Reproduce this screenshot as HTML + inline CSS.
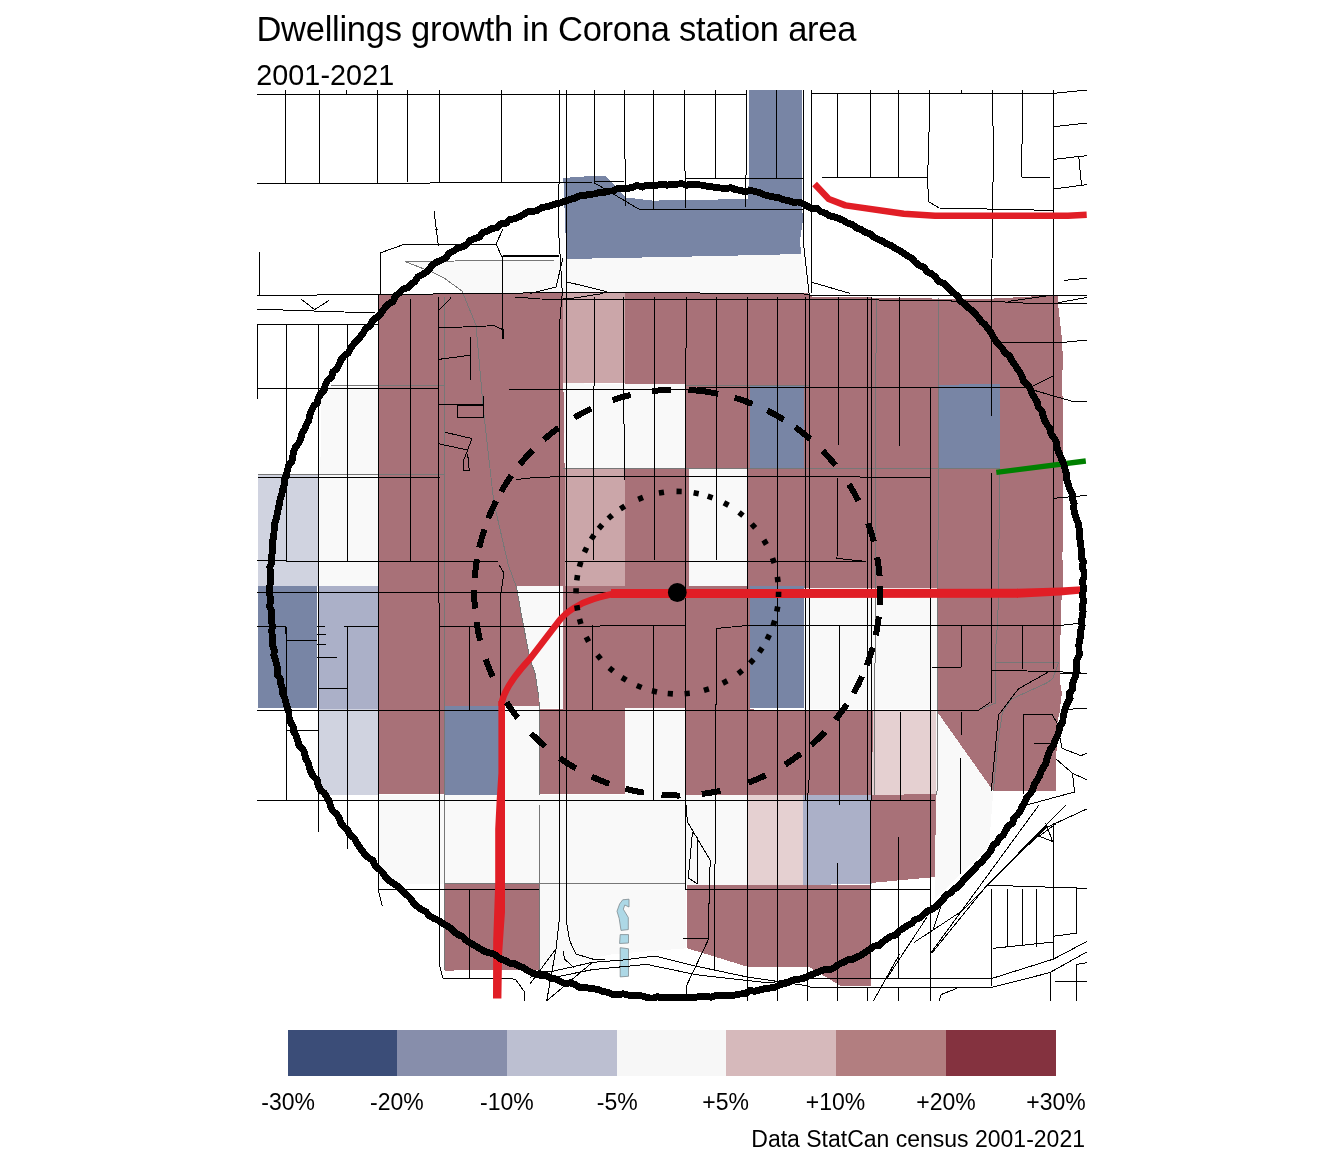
<!DOCTYPE html>
<html lang="en"><head><meta charset="utf-8"><title>Dwellings growth in Corona station area</title>
<style>html,body{margin:0;padding:0;background:#fff}body{width:1344px;height:1152px;position:relative;overflow:hidden}</style></head>
<body>
<svg width="1344" height="1152" viewBox="0 0 1344 1152" style="position:absolute;left:0;top:0">
<defs><clipPath id="cp"><rect x="257" y="90" width="830" height="911"/></clipPath></defs>
<g clip-path="url(#cp)">
<g shape-rendering="crispEdges">
<polygon points="563.3,178 584,176.5 606,176 625.8,197.5 653,200.6 747.7,199 749,178 749,90 801.5,90 801.5,200 803,220 800,240 801,254 717.5,256 566.5,259 565,220" fill="#7885a5"/>
<polygon points="405,261.5 556,260 566.5,259 717.5,256 801,254 809,294 466,295 462,291 444,278 433,272.5" fill="#f9f9f9"/>
<polygon points="378,294.6 563.3,292.6 565.4,586 378,586" fill="#a87178"/>
<polygon points="624.8,293 808,293.3 812,296.5 980,299.3 1040,296 1057.6,295.6 1058.1,304 1062.3,342.5 1062.8,363 1061.8,386 624.8,386" fill="#a87178"/>
<polygon points="563.3,292.6 624.8,293 624.8,383.5 563.3,383.3" fill="#cba6a9"/>
<polygon points="563.3,383.3 686.25,384.5 686.25,468.75 565.4,469.4" fill="#f9f9f9"/>
<polygon points="686.25,384.5 749.8,385.4 749.8,468.75 686.25,468.75" fill="#a87178"/>
<polygon points="749.8,385.4 804,385.4 804,468.75 749.8,468.75" fill="#7885a5"/>
<polygon points="804,385.4 1061.8,385.4 1062.8,400 1062.5,560 1062.5,587.5 804,587.5" fill="#a87178"/>
<polygon points="939.2,385 999.6,383.5 999.6,467.5 939.2,468.5" fill="#7885a5"/>
<polygon points="565.4,469.4 624.8,468.75 624.8,585.8 565.4,585.8" fill="#cba6a9"/>
<polygon points="624.8,468.75 688.75,468.75 688.75,585.8 624.8,585.8" fill="#a87178"/>
<polygon points="688.75,468.75 747.7,468.75 747.7,585.8 688.75,585.8" fill="#f9f9f9"/>
<polygon points="747.7,468.75 804,468.75 804,587.5 747.7,585.8" fill="#a87178"/>
<polygon points="320.8,386.5 378,386.5 378,585.8 320,585.8" fill="#f9f9f9"/>
<polygon points="257.7,474.4 317.7,474.4 317.7,585.8 257.7,585.8" fill="#d0d3e0"/>
<polygon points="257.7,585.8 317,585.8 317,707.7 257.7,707.7" fill="#7885a5"/>
<polygon points="318.75,585.8 377.5,585.8 377.5,708.75 318.75,708.75" fill="#abb0c8"/>
<polygon points="318.75,708.75 377.5,708.75 377.5,795 318.75,795" fill="#d0d3e0"/>
<polygon points="378,585.8 444,585.8 444,794 378,794" fill="#a87178"/>
<polygon points="444,585.8 516,585.8 521,613 530,659 535,673 539,698 539.5,706 444,706" fill="#a87178"/>
<polygon points="444.8,705.6 500,705.6 500,795 444.8,795" fill="#7885a5"/>
<polygon points="516,585.8 563.3,585.8 563.3,708 539.5,708 539.5,795 500,795 500,705.6 539.5,706 539,698 535,673 530,659 521,613" fill="#f9f9f9"/>
<polygon points="563.3,585.8 749.8,585.8 749.8,708.75 563.3,708.75" fill="#a87178"/>
<polygon points="749.8,585.8 804,585.8 804,707.7 749.8,707.7" fill="#7885a5"/>
<polygon points="804,587.5 936.5,587.5 936.5,708.75 804,708.75" fill="#f9f9f9"/>
<polygon points="936.5,587.5 1062.5,587.5 1061.5,600 1061.25,620 1059.7,651 1059.7,680 1061.8,693 1059.7,711.7 1057,724 1055.8,791 993.3,791 936.5,710.8" fill="#a87178"/>
<polygon points="936.5,710.8 993.3,791 989,846.7 935,898.75 935,794" fill="#f9f9f9"/>
<polygon points="539.5,708.75 624.8,708.75 624.8,794.2 539.5,794.2" fill="#a87178"/>
<polygon points="624.8,707.7 685.2,707.7 685.2,795.2 624.8,795.2" fill="#f9f9f9"/>
<polygon points="685.2,708.75 872.5,710.8 872.5,795.2 685.2,795.2" fill="#a87178"/>
<polygon points="873.5,710.8 936,710.8 936,794 871.5,795" fill="#e5d0d1"/>
<polygon points="378,795 747.7,795 747.7,885.2 686.25,885.2 686.25,948.3 613.3,954 539.4,969.6 539.4,883.75 378,883.75" fill="#f9f9f9"/>
<polygon points="747.7,795.2 803,795.2 803,885.2 747.7,885.2" fill="#e5d0d1"/>
<polygon points="803,795.2 871.5,795 871.5,883.5 803,885.2" fill="#abb0c8"/>
<polygon points="871.5,795 936,794 935,877 870.4,883" fill="#a87178"/>
<polygon points="444.8,884 539.4,883.75 539.4,969.6 444.8,970.6" fill="#a87178"/>
<polygon points="687.3,885.2 870.4,885.2 871.5,986 841,986 810,967.5 746.7,966.5 687.3,948.3" fill="#a87178"/>
</g>
<g fill="#add8e6" stroke="#7f8a8f" stroke-width="0.8">
<polygon points="622.7,899.8 629,899.2 629,907 624.8,905 623.3,909.2 628.3,917.5 628.3,929.6 621,930.4 619.2,918.5 617,911.25 619.6,904"/>
<polygon points="620.2,934.6 628.5,934.6 628.5,943 619.6,943.5"/>
<polygon points="620.2,947.7 628.5,948.75 628.5,976.25 620.2,976.9"/>
</g>
<g fill="none" stroke="#777" stroke-width="1" shape-rendering="crispEdges">
<polyline points="405,261.5 556,260"/>
<polyline points="405,261.5 433,272.5 444,278 462,291 476,325 483.3,408.3 493.75,502 508.3,565 516.7,588 521,613 530,659 535,673 539,698 539.5,795"/>
<polyline points="445,297 444.5,970"/>
<polyline points="876.2,298 874.6,795"/>
<polyline points="939,298 937,795"/>
<polyline points="999.6,468 998.6,590 997.7,620 995.6,650 995.6,703 980,709.6"/>
<polyline points="331,385.4 445,385.4"/>
<polyline points="686,385.5 810,385.5"/>
<polyline points="257.7,474.4 445,474.4"/>
<polyline points="563,468.75 1000,468.5"/>
<polyline points="995.6,662.5 1058.6,662.5 1052.9,678.3 1047.7,682.5 1011.25,699.2 1002.4,712.7 998.2,740 993.3,791"/>
<polyline points="444,883.75 686,883.75"/>
<polyline points="539.4,805 539.4,969.6"/>
</g>
<g fill="none" stroke="#000" stroke-width="1" shape-rendering="crispEdges">
<polyline points="257,94 746,94"/>
<polyline points="811,93.3 1053.75,93.3 1086.7,90"/>
<polyline points="257,183 430,183 594.6,182 624,181.5"/>
<polyline points="594.6,183 639.4,209.4 803,209.4"/>
<polyline points="685.8,178.75 803,178.75"/>
<polyline points="822,177.3 927.3,177.3"/>
<polyline points="1021.5,177.3 1049.6,177.3"/>
<polyline points="257,295.4 380,294.6 560,292.6 800,293.3 812,295.4 1086.7,295.4"/>
<polyline points="515,297 540,299 625,299.7 849,299.6"/>
<polyline points="849,299.6 980,301.4 1005,302 1037.3,303.75 1087,303"/>
<polyline points="1008,301.4 1048.75,295.6"/>
<polyline points="257,324.7 378.5,324.7"/>
<polyline points="257,309.6 271,309.6 375,313"/>
<polyline points="301,299 314.6,309.6 328.75,300.6"/>
<polyline points="285,90 285,183"/>
<polyline points="319,90 319,135 320,183"/>
<polyline points="346,90 346,94"/>
<polyline points="377,90 377,183"/>
<polyline points="407,90 407,182"/>
<polyline points="439.4,90 439.4,182"/>
<polyline points="501.5,90 501.5,182"/>
<polyline points="559.6,90 559.6,135 558.5,228.75 562.3,293"/>
<polyline points="563,258 556,287 530,293.5"/>
<polyline points="566.5,281.8 607.2,291.7"/>
<polyline points="603,293.5 571.25,298.5 563,298.5"/>
<polyline points="503,255.8 558.5,255.8"/>
<polyline points="594.6,90 594.6,183"/>
<polyline points="624.4,90 624.4,122 625.8,206"/>
<polyline points="653.5,90 653.5,209.4"/>
<polyline points="684.6,90 684.6,152 685.8,208"/>
<polyline points="715.4,90 715.4,178.75"/>
<polyline points="746.7,90 746.7,152 745,208"/>
<polyline points="776.5,90 776.5,178.75"/>
<polyline points="803,90 803,239 809,293"/>
<polyline points="837.5,93.3 837.5,177.3"/>
<polyline points="870.4,90 870.4,178"/>
<polyline points="898.5,90 898.5,178"/>
<polyline points="929.4,90 929.4,116 928.4,158 927.3,177.3 928.75,201.7 939,208 1052.7,210.4"/>
<polyline points="961.5,90 961.5,94"/>
<polyline points="1022.5,90 1022.5,112 1021.5,177.3"/>
<polyline points="259.4,251.7 259.4,295.4"/>
<polyline points="380,295 380,253 405,244 496,244 503,229"/>
<polyline points="496,244 502,257 560,256"/>
<polyline points="502.7,257 502.7,339"/>
<polyline points="434,211 438.5,246.5"/>
<polyline points="434.5,229 438,229"/>
<polyline points="1053.75,126.7 1086.7,123"/>
<polyline points="1053.75,159.4 1078.75,156.5 1086.7,155.8"/>
<polyline points="1078.75,156.5 1081.5,185"/>
<polyline points="1053.75,189 1086.7,184.6"/>
<polyline points="1064,280.4 1086.7,278.3"/>
<polyline points="1058,302.7 1086.7,297.5"/>
<polyline points="811,282 849.6,293.3"/>
<polyline points="257.7,324.7 257.7,399"/>
<polyline points="286.5,324.7 286.5,560.3"/>
<polyline points="286.5,626.5 286.5,800.4"/>
<polyline points="318.75,324.7 318.75,832"/>
<polyline points="347.3,324.7 347.3,561.4"/>
<polyline points="347.3,626.5 347.3,848.75"/>
<polyline points="378,295 378,889.4 382.3,906"/>
<polyline points="410.4,299 410.4,561.4"/>
<polyline points="438.5,297 439.6,965.4 442.7,978"/>
<polyline points="469.8,626.5 469.8,710.8"/>
<polyline points="469.8,889.4 469.8,978"/>
<polyline points="499,565 504,573 501,592 500,702.5"/>
<polyline points="562.3,293 559,330 559,921.7 556,948.75 546.7,1000.8"/>
<polyline points="566.5,90 566.5,921.7 569.6,940.4 575.8,954 592.5,959 605,959"/>
<polyline points="594.6,297 593.4,480 593.2,560"/>
<polyline points="592.5,625.4 592.5,710.8"/>
<polyline points="623.6,297 623.6,400 625,480 625,800.4"/>
<polyline points="655,297 654.4,480 654.4,560"/>
<polyline points="653.6,625.4 653.6,800.4"/>
<polyline points="686.25,297 685.4,480 685.4,889.4"/>
<polyline points="716,297 716,560"/>
<polyline points="716.5,628.5 715.4,800 714.4,969.6"/>
<polyline points="747.7,297 747.7,1000.8"/>
<polyline points="777.5,297 777.5,1000.8"/>
<polyline points="805,297 805,800"/>
<polyline points="809,293 809,780 807.5,800 807.5,1000.8"/>
<polyline points="811,90 811,293"/>
<polyline points="838,297 838,445"/>
<polyline points="838,477.7 837,558.3 866,561.5"/>
<polyline points="867.3,297 867.3,800"/>
<polyline points="871.5,297 871.5,800"/>
<polyline points="870,800 870,978"/>
<polyline points="899.6,297 899.6,445.8"/>
<polyline points="900.6,712 900.6,800"/>
<polyline points="898.5,837.3 898.5,978"/>
<polyline points="930.8,387.5 930.8,1000.8"/>
<polyline points="961,625.4 961,667"/>
<polyline points="961,712 961,734.8"/>
<polyline points="960,757.7 960,873.75"/>
<polyline points="992.7,90 993.3,160 992,260 991.25,415.6"/>
<polyline points="991.25,473.3 991.25,702.5"/>
<polyline points="1022.5,625.4 1022.5,669"/>
<polyline points="1023.5,714 1023.5,794"/>
<polyline points="1053.3,90 1053.3,669"/>
<polyline points="839,625.4 839,805"/>
<polyline points="837.7,863.3 837.7,1000.8"/>
<polyline points="257.7,388 438.5,388"/>
<polyline points="509.4,389.6 686,389.6 700,387.5 810,387"/>
<polyline points="810,387 1022.5,387 1040,392 1074.6,402 1086.7,401.5"/>
<polyline points="1030.8,387 1052.7,376"/>
<polyline points="993.3,342.7 1060,342.7 1086.7,340"/>
<polyline points="257.7,477 439.6,477"/>
<polyline points="515.6,479.6 530,478 560,476.5 810,476.5 929.8,477.7"/>
<polyline points="565.4,561.5 866,561.5"/>
<polyline points="257,560.3 286.25,560.3 286.25,561.4 498,561.4"/>
<polyline points="1053.75,498.3 1086.7,495.4"/>
<polyline points="257,592.7 611,592.7"/>
<polyline points="257,626.5 285.4,626.5 286.5,640 317,640"/>
<polyline points="317,626 325,626"/>
<polyline points="317,634.4 326,634.4"/>
<polyline points="317,644 326,644"/>
<polyline points="317,657 336.5,657"/>
<polyline points="344.4,626.5 377.5,626.5"/>
<polyline points="318.75,688.3 347.3,688.3"/>
<polyline points="439,626.5 530,626.5 685.2,625.4"/>
<polyline points="716.5,628.5 747.7,625.4 1061,625.4 1078.75,623.3"/>
<polyline points="257,710.8 977.7,710.8 990,702.5"/>
<polyline points="286.5,730.6 318.3,730.6"/>
<polyline points="257,800.4 935,800.4"/>
<polyline points="931.5,667 961,667"/>
<polyline points="991.25,670.6 1049.6,671.25 1086.7,673.3"/>
<polyline points="1049.6,671.25 1018.3,689 998.5,715 991.25,791"/>
<polyline points="1023.5,714 1051.7,714 1057,723"/>
<polyline points="1034,744 1051.7,743"/>
<polyline points="379,889.4 539.4,889.4"/>
<polyline points="685.2,889.4 930.4,890"/>
<polyline points="442.7,978 508.3,978 515.6,979.6 525,992.5 524.6,1000.8"/>
<polyline points="810,978 993,978"/>
<polyline points="810,987.3 993.3,987.3"/>
<polyline points="837,987.3 837,1000.8"/>
<polyline points="867.5,987.3 867.5,1000.8"/>
<polyline points="898.5,987.3 898.5,1000.8"/>
<polyline points="930.4,987.3 930.4,1000.8"/>
<polyline points="438.5,328 494,325.7 503,329.7 503,338.5"/>
<polyline points="438,311 451,297.7"/>
<polyline points="438.5,359.4 470.4,355.2"/>
<polyline points="470.4,337 470.4,380.2"/>
<polyline points="438.5,404 483.3,404"/>
<polyline points="457.3,405.2 483.3,405.2 483.3,417.3 457.3,417.3 457.3,405.2"/>
<polyline points="483.3,395.8 483.3,417.3"/>
<polyline points="445.2,432.3 471.9,438.5 467.7,450 438.5,443.75"/>
<polyline points="467.7,450 463.5,460.4 463.5,470.2 469.2,470.2 467.7,454"/>
<polyline points="530,971.7 550.8,971.7 592.5,962.3 621.7,960.2 655,956 692.5,965.4 746.7,976.9 810,986.25"/>
<polyline points="550.8,978 592.5,969.6 646.7,964.4 696.7,974.8 769.6,983 810,974.8"/>
<polyline points="556,948.75 530,984"/>
<polyline points="563.3,950.8 564.4,959 573.75,967.5"/>
<polyline points="592.5,962.3 546.7,1000.8"/>
<polyline points="539.4,969.6 530,978"/>
<polyline points="686.25,805 687.3,821.7 710.2,860.2 708,940.4 686.25,986.25 686.25,996.7"/>
<polyline points="692.5,832 688.3,878 697.7,884 697.7,838.3 692.5,832"/>
<polyline points="683,938.3 708,938.3"/>
<polyline points="1039,805 930.8,953"/>
<polyline points="1066,805 987,885.2 931.9,953"/>
<polyline points="1086.7,809 1045.4,828 962,911 914,942.5"/>
<polyline points="943.3,898.75 933,930"/>
<polyline points="899.6,954 873.5,1000.8"/>
<polyline points="926.7,917.5 887,978"/>
<polyline points="987,885.2 1086.7,888.3"/>
<polyline points="991.25,889.4 991.25,986"/>
<polyline points="1007.5,889.4 1007.5,947"/>
<polyline points="1022.5,889.4 1022.5,946"/>
<polyline points="1036.7,889.4 1036.7,946.7"/>
<polyline points="1053.75,822.7 1053.75,959"/>
<polyline points="1076.7,888.3 1076.7,933"/>
<polyline points="993,948.3 1053.75,942"/>
<polyline points="1053.75,936.25 1076.7,933"/>
<polyline points="993.3,978 1053.75,959 1086.7,941.5"/>
<polyline points="993.3,987 1049.6,972.7 1086.7,952"/>
<polyline points="1050.6,972.7 1050.6,1000.8"/>
<polyline points="1076.7,964.4 1076.7,1000.8"/>
<polyline points="1076.7,964.4 1086.7,962.7"/>
<polyline points="1054.8,981.7 1086.7,981.7"/>
<polyline points="1045.4,822.7 1052.7,841.5 1039.2,836.25 1055.8,823.75"/>
<polyline points="939,1000.8 941,994.6 957,988.3"/>
<polyline points="1062,710.8 1074.6,708.75 1086.7,708.3"/>
<polyline points="1057,723.3 1062,748.3 1080.8,755.6 1086.7,753.5"/>
<polyline points="1055.8,758.75 1072.5,773.3 1086.7,779.6"/>
<polyline points="1072.5,773.3 1074.6,792 1026.7,805"/>
<polyline points="1060,673.3 1086.7,673.3"/>
</g>
<g fill="none" stroke="#e11e26" stroke-linejoin="round">
<path stroke-width="6.5" d="M814.6 184L828.75 199L845.4 205.4L903.75 213.75L935 215.8L1068 215.8L1086.7 214.8"/>
<path stroke-width="6.4" d="M501.7 706L501.7 702.5C504 692 513 677 530 658.75L559 621C566 612 580 603 592.5 599.4C600 597 606 595 613 594L655 593"/>
<path stroke-width="9" d="M611 593.5L1018 593.2"/>
<polygon stroke="none" fill="#e11e26" points="1017,588.7 1060,587.5 1082,586.2 1082,593.4 1060,595.4 1017,597.7"/>
<polygon stroke="none" fill="#e11e26" points="498.4,701 498.4,773 496.6,801 495.2,829 495.2,884 493.2,940 493,998.5 501.4,998.5 502.1,954 504,926 505,912 505,701"/>
</g>
<path d="M996.3 472.3L1085.8 461" stroke="#008000" stroke-width="5.3" fill="none"/>
<polygon points="1083.1,591.5 1082.8,594.0 1082.6,596.4 1083.2,598.9 1083.8,601.3 1083.0,603.8 1082.2,606.2 1082.6,608.7 1083.1,611.2 1082.8,613.6 1082.4,616.0 1081.9,618.5 1081.3,620.9 1081.7,623.4 1082.1,625.9 1081.3,628.3 1080.5,630.7 1080.7,633.1 1080.9,635.6 1080.2,638.0 1079.5,640.4 1079.2,642.8 1078.9,645.3 1079.0,647.8 1079.0,650.3 1079.2,652.8 1079.3,655.3 1078.0,657.6 1076.8,659.8 1076.5,662.3 1076.2,664.7 1076.2,667.2 1076.2,669.7 1076.1,672.2 1076.0,674.7 1075.1,677.0 1074.1,679.3 1073.3,681.7 1072.6,684.0 1072.7,686.6 1072.8,689.1 1071.1,691.2 1069.4,693.3 1069.7,696.0 1070.1,698.6 1068.7,700.8 1067.4,703.0 1066.5,705.3 1065.7,707.6 1064.9,709.9 1064.2,712.2 1063.7,714.7 1063.1,717.1 1063.0,719.6 1062.8,722.1 1061.2,724.2 1059.7,726.3 1059.3,728.7 1059.0,731.2 1058.2,733.5 1057.4,735.9 1056.2,738.1 1055.0,740.2 1054.3,742.6 1053.6,744.9 1052.1,747.0 1050.6,749.0 1049.6,751.3 1048.6,753.5 1047.8,755.8 1047.0,758.2 1046.5,760.6 1046.0,763.1 1044.7,765.2 1043.4,767.3 1042.2,769.4 1040.9,771.6 1040.2,773.9 1039.4,776.3 1038.1,778.4 1036.8,780.5 1035.5,782.6 1034.2,784.6 1033.5,787.1 1032.9,789.6 1031.6,791.6 1030.2,793.7 1028.5,795.6 1026.8,797.4 1025.9,799.7 1025.0,802.0 1023.7,804.1 1022.3,806.2 1021.4,808.5 1020.4,810.8 1019.0,812.8 1017.5,814.7 1015.6,816.5 1013.8,818.2 1013.2,820.8 1012.5,823.3 1010.2,824.7 1007.9,826.1 1006.8,828.3 1005.6,830.5 1004.5,832.7 1003.4,835.0 1001.3,836.5 999.2,838.0 998.1,840.2 996.9,842.4 994.9,843.9 993.0,845.5 992.0,847.9 991.1,850.3 989.6,852.3 988.1,854.2 986.4,856.0 984.6,857.7 983.2,859.8 981.9,861.9 979.7,863.3 977.6,864.6 976.3,866.7 974.9,868.9 973.2,870.6 971.4,872.3 969.7,874.0 967.9,875.8 966.1,877.4 964.3,879.1 962.9,881.1 961.4,883.2 959.8,885.0 958.1,886.8 955.9,888.1 953.7,889.3 952.0,891.2 950.4,893.0 948.1,894.1 945.7,895.2 944.4,897.4 943.1,899.6 941.2,901.2 939.3,902.7 937.7,904.6 936.0,906.5 934.0,907.9 931.9,909.3 929.6,910.3 927.2,911.3 925.4,912.9 923.5,914.5 921.8,916.3 920.0,918.0 917.6,918.8 915.1,919.6 913.4,921.5 911.8,923.4 909.5,924.5 907.3,925.6 905.3,926.9 903.2,928.3 901.1,929.6 899.0,930.9 897.5,932.9 895.9,935.0 893.4,935.7 890.9,936.3 888.8,937.7 886.8,939.1 884.8,940.5 882.8,941.9 881.0,943.7 879.1,945.4 876.5,945.8 873.9,946.1 872.0,947.7 870.0,949.3 867.9,950.6 865.8,951.8 863.8,953.3 861.8,954.8 859.6,955.9 857.3,956.9 855.2,958.0 853.0,959.1 850.4,959.5 847.9,959.9 845.7,961.1 843.6,962.3 841.3,963.2 839.0,964.1 837.0,965.7 835.0,967.3 832.8,968.3 830.5,969.3 827.9,969.3 825.2,969.3 822.9,970.2 820.7,971.1 818.4,972.0 816.1,973.0 813.8,973.8 811.5,974.6 809.3,975.7 807.1,976.8 804.8,977.7 802.5,978.6 800.0,979.0 797.5,979.3 795.1,979.7 792.7,980.1 790.5,981.3 788.2,982.5 785.9,983.1 783.5,983.7 781.2,984.6 778.9,985.4 776.6,986.5 774.3,987.6 771.9,987.8 769.4,988.1 766.9,988.4 764.5,988.8 762.1,989.4 759.7,990.0 757.3,990.6 754.9,991.2 752.4,990.9 749.8,990.5 747.6,992.0 745.4,993.5 742.9,993.7 740.4,994.0 738.0,994.5 735.6,995.0 733.2,995.2 730.7,995.5 728.2,995.3 725.7,995.1 723.3,995.4 720.8,995.6 718.3,995.5 715.9,995.4 713.5,996.3 711.1,997.2 708.6,996.7 706.1,996.1 703.6,996.3 701.2,996.5 698.8,996.8 696.3,997.1 693.9,997.2 691.4,997.2 689.0,997.5 686.5,997.8 684.1,997.5 681.6,997.2 679.2,997.1 676.7,997.1 674.2,997.2 671.8,997.4 669.3,997.3 666.9,997.2 664.4,997.4 662.0,997.7 659.5,997.2 657.1,996.6 654.6,997.6 652.1,998.5 649.6,998.0 647.2,997.5 644.8,996.8 642.4,996.0 640.0,995.9 637.5,995.8 635.0,995.7 632.6,995.5 630.1,995.3 627.7,995.0 625.3,994.4 622.9,993.8 620.4,994.3 617.8,994.9 615.3,994.7 612.9,994.5 610.5,993.5 608.2,992.4 605.8,992.0 603.4,991.6 601.1,990.7 598.7,989.7 596.3,989.2 593.9,988.8 591.5,988.6 589.0,988.3 586.6,987.7 584.3,987.1 581.7,987.2 579.1,987.3 577.0,985.9 574.8,984.5 572.5,983.7 570.1,982.9 567.5,983.3 564.8,983.8 562.6,982.6 560.4,981.4 558.1,980.2 555.9,979.0 553.4,978.8 551.0,978.5 548.8,977.1 546.7,975.7 544.2,975.5 541.7,975.3 539.2,975.0 536.6,974.7 534.4,973.7 532.1,972.7 529.9,971.6 527.7,970.6 525.6,969.1 523.5,967.7 521.2,966.9 518.9,966.1 516.7,964.9 514.6,963.7 512.0,963.4 509.5,963.1 507.3,961.8 505.2,960.5 502.9,959.7 500.5,958.9 498.6,957.4 496.6,955.8 494.5,954.6 492.3,953.3 489.8,952.9 487.3,952.4 485.0,951.4 482.7,950.5 480.7,949.1 478.6,947.8 476.5,946.5 474.3,945.3 472.2,944.1 470.1,942.8 468.0,941.5 465.9,940.1 464.2,938.3 462.4,936.5 460.1,935.5 457.9,934.5 455.9,933.0 454.0,931.5 452.1,929.8 450.3,928.1 448.3,926.7 446.3,925.3 444.1,924.2 441.9,923.0 439.9,921.6 437.9,920.1 435.6,919.1 433.3,918.1 431.2,916.9 429.0,915.6 427.4,913.6 425.9,911.6 423.6,910.6 421.3,909.5 419.3,908.0 417.4,906.5 415.5,904.9 413.6,903.3 412.2,901.1 410.9,899.0 409.1,897.2 407.4,895.5 405.6,893.8 403.7,892.2 402.0,890.5 400.2,888.8 398.4,887.2 396.6,885.5 394.5,884.2 392.3,882.8 390.3,881.3 388.3,879.9 386.7,878.1 385.0,876.2 383.6,874.2 382.2,872.1 380.4,870.4 378.5,868.8 376.7,867.1 374.9,865.4 373.9,863.0 373.0,860.6 370.8,859.2 368.7,857.8 366.8,856.2 365.0,854.5 363.5,852.5 362.1,850.5 360.6,848.6 359.0,846.6 357.8,844.5 356.5,842.3 355.3,840.2 354.1,838.0 352.0,836.5 349.9,835.0 348.9,832.7 347.9,830.4 346.0,828.7 344.1,827.1 342.5,825.2 340.9,823.3 340.1,820.8 339.4,818.4 338.0,816.3 336.6,814.3 334.7,812.6 332.8,810.9 331.7,808.7 330.7,806.4 330.0,804.0 329.3,801.5 328.1,799.4 326.9,797.3 325.6,795.2 324.3,793.0 322.3,791.4 320.3,789.7 319.2,787.5 318.1,785.3 317.7,782.7 317.3,780.1 315.4,778.4 313.5,776.6 312.2,774.4 311.0,772.3 310.2,769.9 309.5,767.5 308.8,765.2 308.1,762.8 306.9,760.6 305.6,758.5 305.1,756.0 304.6,753.6 303.8,751.3 302.9,749.0 300.9,747.2 298.8,745.3 298.3,742.9 297.8,740.5 297.0,738.1 296.3,735.8 294.9,733.7 293.6,731.5 293.4,729.0 293.1,726.5 291.8,724.3 290.5,722.2 289.7,719.8 289.0,717.5 289.0,714.9 289.0,712.3 288.2,710.0 287.5,707.6 286.7,705.3 286.0,703.0 285.4,700.6 284.8,698.2 283.8,695.9 282.7,693.7 282.5,691.2 282.3,688.7 281.5,686.4 280.8,684.0 280.6,681.6 280.4,679.1 278.9,676.9 277.4,674.7 277.6,672.1 277.8,669.6 277.2,667.2 276.7,664.8 276.1,662.4 275.5,660.0 274.7,657.7 273.9,655.3 274.1,652.8 274.4,650.2 273.4,647.9 272.5,645.5 272.6,643.0 272.9,640.5 272.5,638.1 272.2,635.7 272.0,633.2 271.7,630.8 272.1,628.3 272.6,625.8 271.8,623.4 271.1,621.0 271.3,618.5 271.4,616.0 271.5,613.6 271.6,611.1 270.5,608.7 269.4,606.3 270.1,603.8 270.8,601.3 270.4,598.9 270.0,596.4 269.7,594.0 269.3,591.5 269.6,589.0 269.8,586.6 270.1,584.1 270.5,581.7 270.3,579.2 270.1,576.8 270.2,574.3 270.2,571.8 270.1,569.4 269.9,566.9 270.9,564.5 272.0,562.1 271.6,559.6 271.2,557.1 271.8,554.7 272.4,552.3 272.6,549.9 272.9,547.4 272.5,544.9 272.2,542.4 272.8,540.0 273.5,537.6 273.7,535.1 274.0,532.7 274.1,530.2 274.3,527.8 274.5,525.3 274.7,522.8 275.7,520.5 276.7,518.2 276.9,515.7 277.2,513.3 277.8,510.9 278.4,508.5 278.9,506.1 279.5,503.7 279.8,501.3 280.1,498.8 281.0,496.5 281.8,494.2 282.3,491.8 282.8,489.4 283.5,487.0 284.2,484.6 284.3,482.1 284.4,479.6 285.4,477.3 286.4,475.0 286.9,472.6 287.4,470.2 288.1,467.8 288.8,465.5 290.3,463.4 291.9,461.3 292.4,458.9 292.8,456.4 293.2,454.0 293.6,451.5 294.6,449.2 295.5,446.9 297.2,445.0 299.0,443.0 299.9,440.7 300.8,438.5 301.4,436.0 301.9,433.6 303.3,431.5 304.7,429.5 305.5,427.1 306.3,424.8 307.5,422.7 308.8,420.5 309.1,418.0 309.5,415.4 310.4,413.2 311.4,410.9 312.4,408.6 313.4,406.4 315.3,404.6 317.3,402.9 317.8,400.4 318.3,397.9 319.6,395.7 320.8,393.6 322.6,391.8 324.4,390.0 324.8,387.4 325.2,384.8 326.4,382.6 327.6,380.4 329.6,378.8 331.7,377.2 332.3,374.7 332.8,372.1 334.7,370.4 336.6,368.7 337.9,366.6 339.2,364.5 340.0,362.1 340.9,359.7 342.5,357.8 344.0,355.9 346.2,354.4 348.3,352.9 349.5,350.7 350.6,348.5 352.0,346.5 353.4,344.5 355.1,342.7 356.8,340.9 358.5,339.1 360.1,337.2 361.5,335.2 363.0,333.2 364.2,331.0 365.4,328.8 367.6,327.5 369.9,326.2 371.0,323.9 372.1,321.7 373.8,319.9 375.6,318.2 377.6,316.7 379.7,315.3 381.1,313.2 382.5,311.2 383.9,309.1 385.4,307.1 387.2,305.5 389.0,303.8 391.2,302.5 393.3,301.2 394.3,298.6 395.2,296.1 397.2,294.6 399.2,293.1 400.8,291.2 402.5,289.4 405.0,288.6 407.6,287.7 409.3,286.0 411.0,284.2 413.1,282.8 415.1,281.5 416.4,279.2 417.7,276.9 420.0,275.8 422.3,274.8 424.4,273.4 426.4,272.0 428.1,270.2 429.8,268.4 431.4,266.4 433.0,264.5 435.1,263.1 437.1,261.7 439.5,260.9 441.9,260.0 444.0,258.7 446.1,257.4 447.6,255.2 449.1,253.1 451.4,252.1 453.7,251.1 455.6,249.6 457.6,248.1 460.1,247.5 462.6,246.8 464.7,245.6 466.8,244.3 468.5,242.4 470.2,240.4 472.5,239.5 474.8,238.5 477.2,237.7 479.5,236.9 481.1,234.8 482.8,232.6 485.1,231.8 487.5,231.0 489.6,229.7 491.7,228.4 494.3,228.1 496.9,227.8 498.6,225.8 500.4,223.9 503.1,223.7 505.7,223.6 507.5,221.6 509.4,219.7 511.8,219.2 514.3,218.7 516.6,217.8 518.9,217.0 521.1,215.8 523.2,214.6 525.4,213.3 527.5,211.9 530.1,211.8 532.7,211.7 535.0,211.0 537.4,210.3 539.5,209.0 541.7,207.7 544.1,207.2 546.5,206.8 548.9,206.2 551.3,205.5 553.6,204.7 555.9,203.9 558.3,203.3 560.7,202.8 563.0,201.9 565.3,201.0 567.6,200.2 570.0,199.4 572.3,198.8 574.7,198.2 576.9,197.0 579.2,195.9 581.7,195.9 584.2,195.9 586.6,195.1 588.9,194.3 591.4,194.2 593.9,194.0 596.3,193.3 598.6,192.7 601.1,192.6 603.6,192.5 606.0,191.8 608.3,191.1 610.8,191.0 613.3,190.9 615.5,189.6 617.8,188.4 620.3,188.3 622.8,188.2 625.3,188.3 627.8,188.4 630.2,187.8 632.6,187.2 634.9,186.3 637.3,185.5 639.9,186.3 642.4,187.1 644.8,186.0 647.2,185.0 649.7,185.3 652.1,185.6 654.6,185.4 657.0,185.2 659.5,184.7 661.9,184.1 664.4,184.6 666.9,185.1 669.3,184.9 671.8,184.7 674.2,184.5 676.7,184.2 679.2,183.9 681.6,183.5 684.1,184.4 686.5,185.2 689.0,184.7 691.5,184.1 693.9,184.4 696.4,184.7 698.8,184.9 701.3,185.1 703.7,185.5 706.1,186.0 708.6,186.3 711.0,186.5 713.4,187.1 715.9,187.7 718.3,187.9 720.8,188.0 723.2,188.4 725.6,188.7 728.1,188.2 730.7,187.7 733.0,188.6 735.4,189.6 737.8,190.0 740.2,190.5 742.6,191.0 745.0,191.5 747.6,191.0 750.2,190.5 752.6,190.9 755.0,191.4 757.4,192.1 759.8,192.8 762.1,193.8 764.4,194.8 766.7,195.4 769.1,196.0 771.5,196.5 773.9,197.0 776.4,197.4 778.8,197.8 781.1,198.8 783.3,199.8 785.8,200.1 788.3,200.4 790.6,201.3 792.9,202.3 795.5,202.1 798.1,202.0 800.4,202.7 802.8,203.5 804.9,204.8 807.1,206.0 809.3,207.2 811.5,208.4 814.1,208.3 816.7,208.3 818.8,209.9 820.8,211.6 823.1,212.4 825.4,213.2 827.5,214.6 829.6,215.9 832.1,216.4 834.5,216.9 836.8,217.7 839.1,218.6 841.4,219.6 843.7,220.5 845.7,221.9 847.8,223.3 850.2,224.0 852.6,224.7 854.5,226.3 856.4,227.9 858.8,228.7 861.1,229.6 863.2,230.9 865.3,232.2 867.6,233.0 870.0,233.8 871.9,235.4 873.8,237.0 876.0,238.2 878.1,239.4 880.4,240.3 882.7,241.3 884.7,242.6 886.8,243.9 889.1,244.8 891.5,245.8 893.5,247.1 895.5,248.5 897.8,249.6 900.0,250.7 902.0,252.2 903.9,253.6 906.0,254.9 908.1,256.3 910.2,257.5 912.4,258.8 914.0,260.7 915.6,262.6 917.6,264.1 919.5,265.7 922.0,266.5 924.4,267.3 925.7,269.6 927.0,272.0 929.4,272.9 931.8,273.9 933.6,275.5 935.5,277.2 936.9,279.3 938.3,281.4 940.8,282.3 943.3,283.1 945.2,284.7 947.1,286.3 948.7,288.2 950.3,290.1 952.2,291.6 954.1,293.2 956.0,294.8 957.9,296.4 959.0,298.7 960.2,301.0 962.3,302.4 964.4,303.8 966.1,305.6 967.8,307.3 969.8,308.8 971.8,310.3 973.5,312.1 975.1,313.9 976.8,315.7 978.5,317.5 979.9,319.6 981.4,321.6 983.3,323.2 985.2,324.8 986.6,326.8 988.0,328.9 989.6,330.8 991.1,332.6 992.3,334.9 993.3,337.2 994.7,339.3 996.0,341.3 997.6,343.2 999.2,345.1 1000.9,346.8 1002.6,348.6 1003.8,350.8 1005.0,353.0 1007.2,354.4 1009.4,355.9 1010.5,358.1 1011.6,360.3 1013.1,362.3 1014.5,364.3 1015.9,366.3 1017.2,368.4 1018.6,370.4 1020.0,372.5 1021.1,374.7 1022.2,376.9 1023.0,379.3 1023.8,381.7 1025.9,383.3 1028.0,384.9 1029.2,387.0 1030.4,389.2 1031.3,391.5 1032.2,393.8 1033.5,395.9 1034.7,398.1 1036.0,400.2 1037.3,402.3 1037.7,404.8 1038.2,407.3 1040.1,409.1 1041.9,410.9 1042.4,413.4 1043.0,415.9 1043.8,418.2 1044.7,420.5 1045.9,422.6 1047.1,424.8 1048.7,426.8 1050.2,428.8 1050.6,431.3 1050.9,433.8 1052.5,435.9 1054.0,437.9 1055.2,440.0 1056.4,442.2 1056.7,444.7 1057.1,447.3 1057.8,449.6 1058.5,452.0 1059.5,454.2 1060.4,456.5 1061.4,458.7 1062.5,461.0 1063.4,463.3 1064.2,465.6 1064.8,468.0 1065.4,470.4 1066.1,472.7 1066.9,475.1 1066.9,477.6 1066.9,480.2 1067.6,482.5 1068.4,484.9 1069.1,487.2 1069.9,489.5 1071.1,491.8 1072.3,494.0 1072.3,496.5 1072.4,499.0 1073.2,501.4 1074.1,503.7 1073.9,506.2 1073.8,508.8 1074.3,511.2 1074.8,513.6 1075.6,515.9 1076.3,518.3 1077.2,520.6 1078.1,522.9 1078.5,525.4 1079.0,527.8 1079.3,530.2 1079.7,532.7 1079.5,535.2 1079.4,537.7 1080.0,540.1 1080.6,542.5 1080.8,544.9 1081.0,547.4 1081.3,549.8 1081.5,552.2 1081.3,554.7 1081.1,557.2 1082.3,559.6 1083.4,562.0 1082.7,564.5 1082.0,567.0 1083.1,569.4 1084.2,571.8 1084.3,574.3 1084.3,576.7 1083.3,579.2 1082.2,581.7 1082.8,584.1 1083.4,586.6 1083.2,589.0" fill="none" stroke="#000" stroke-width="6.9" stroke-linejoin="round" shape-rendering="crispEdges"/>
<path d="M880.2 585.8A203.0 203.0 0 0 1 879.9 604.8M878.9 616.5A203.0 203.0 0 0 1 875.8 635.2M872.7 647.4A203.0 203.0 0 0 1 866.7 665.4M862.1 676.4A203.0 203.0 0 0 1 853.5 693.3M846.8 704.3A203.0 203.0 0 0 1 835.6 719.6M824.9 731.9A203.0 203.0 0 0 1 811.2 745.1M800.7 753.7A203.0 203.0 0 0 1 785.1 764.5M765.8 775.2A203.0 203.0 0 0 1 748.3 782.7M720.5 790.8A203.0 203.0 0 0 1 701.8 794.0M680.5 795.5A203.0 203.0 0 0 1 661.5 794.9M643.9 792.7A203.0 203.0 0 0 1 625.3 788.7M609.3 783.8A203.0 203.0 0 0 1 591.7 776.6M575.9 768.4A203.0 203.0 0 0 1 559.9 758.1M545.1 746.5A203.0 203.0 0 0 1 531.2 733.5M517.6 717.9A203.0 203.0 0 0 1 506.6 702.4M492.7 676.8A203.0 203.0 0 0 1 485.6 659.2M480.1 640.8A203.0 203.0 0 0 1 476.5 622.2M474.9 608.6A203.0 203.0 0 0 1 474.3 589.6M474.8 578.1A203.0 203.0 0 0 1 477.0 559.2M479.3 547.6A203.0 203.0 0 0 1 484.4 529.3M488.3 518.3A203.0 203.0 0 0 1 496.1 501.0M501.2 491.5A203.0 203.0 0 0 1 511.4 475.5M519.9 464.3A203.0 203.0 0 0 1 532.6 450.2M543.8 439.6A203.0 203.0 0 0 1 558.7 427.8M574.4 417.5A203.0 203.0 0 0 1 591.2 408.7M612.5 400.1A203.0 203.0 0 0 1 630.7 394.9M652.1 391.1A203.0 203.0 0 0 1 671.0 389.6M688.5 389.8A203.0 203.0 0 0 1 718.2 393.7M734.5 397.7A203.0 203.0 0 0 1 752.4 403.9M767.1 410.4A203.0 203.0 0 0 1 783.7 419.6M795.2 427.2A203.0 203.0 0 0 1 810.1 439.0M822.8 450.9A203.0 203.0 0 0 1 835.4 465.2M849.0 484.2A203.0 203.0 0 0 1 858.4 500.8M868.2 523.4A203.0 203.0 0 0 1 873.8 541.5M877.2 557.3A203.0 203.0 0 0 1 879.6 576.1" fill="none" stroke="#000" stroke-width="6" shape-rendering="crispEdges"/>
<path d="M778.6 591.8L778.5 597.0M777.7 606.5L776.8 611.6M774.7 620.6L773.1 625.6M769.4 634.8L767.1 639.5M762.2 647.9L759.3 652.2M753.6 659.4L750.0 663.2M742.3 670.4L738.2 673.7M727.3 680.8L722.7 683.2M708.9 688.9L703.9 690.4M689.8 693.2L684.6 693.7M672.9 693.9L667.7 693.5M657.0 691.9L651.9 690.8M641.6 687.5L636.8 685.5M626.3 680.2L621.9 677.5M613.2 671.1L609.3 667.8M600.7 659.0L597.4 655.0M588.6 641.6L586.2 637.0M580.9 623.9L579.5 619.0M577.6 610.5L576.8 605.3M576.0 593.4L576.1 588.2M576.8 580.3L577.5 575.2M579.4 566.7L580.9 561.7M584.4 552.3L586.6 547.6M591.2 539.2L594.1 534.9M598.8 528.6L602.2 524.7M608.3 518.5L612.2 515.1M620.4 508.9L624.8 506.1M638.2 499.3L643.0 497.4M658.9 493.1L664.0 492.3M676.5 491.4L681.7 491.5M693.6 492.7L698.7 493.7M707.7 496.1L712.6 497.8M723.9 502.8L728.5 505.3M739.0 512.4L743.0 515.6M751.7 524.0L755.2 527.9M763.8 540.0L766.4 544.5M772.5 558.1L774.2 563.1M777.4 576.9L778.0 582.1" fill="none" stroke="#000" stroke-width="5.6"/>
<circle cx="677.3" cy="592.5" r="9.4" fill="#000"/>
</g>
<g shape-rendering="crispEdges">
<rect x="288.10" y="1029.7" width="109.25" height="45.9" fill="#3b4d78"/>
<rect x="396.85" y="1029.7" width="110.55" height="45.9" fill="#878eab"/>
<rect x="506.90" y="1029.7" width="110.80" height="45.9" fill="#bcbfd1"/>
<rect x="617.20" y="1029.7" width="108.90" height="45.9" fill="#f7f7f7"/>
<rect x="725.60" y="1029.7" width="110.50" height="45.9" fill="#d6b9bb"/>
<rect x="835.60" y="1029.7" width="110.90" height="45.9" fill="#b27e80"/>
<rect x="946.00" y="1029.7" width="110.00" height="45.9" fill="#84323f"/>
</g>
<g font-family="'Liberation Sans', Arial, sans-serif" fill="#000">
<text x="288.1" y="1109.6" font-size="23" text-anchor="middle">-30%</text>
<text x="396.9" y="1109.6" font-size="23" text-anchor="middle">-20%</text>
<text x="506.9" y="1109.6" font-size="23" text-anchor="middle">-10%</text>
<text x="617.2" y="1109.6" font-size="23" text-anchor="middle">-5%</text>
<text x="725.6" y="1109.6" font-size="23" text-anchor="middle">+5%</text>
<text x="835.6" y="1109.6" font-size="23" text-anchor="middle">+10%</text>
<text x="946.0" y="1109.6" font-size="23" text-anchor="middle">+20%</text>
<text x="1056.0" y="1109.6" font-size="23" text-anchor="middle">+30%</text>
<text x="256.4" y="40.6" font-size="34.5" textLength="600" lengthAdjust="spacing">Dwellings growth in Corona station area</text>
<text x="256.2" y="84.6" font-size="28.75" textLength="138" lengthAdjust="spacing">2001-2021</text>
<text x="1085" y="1147" font-size="23" text-anchor="end">Data StatCan census 2001-2021</text>
</g>
</svg>
</body></html>
